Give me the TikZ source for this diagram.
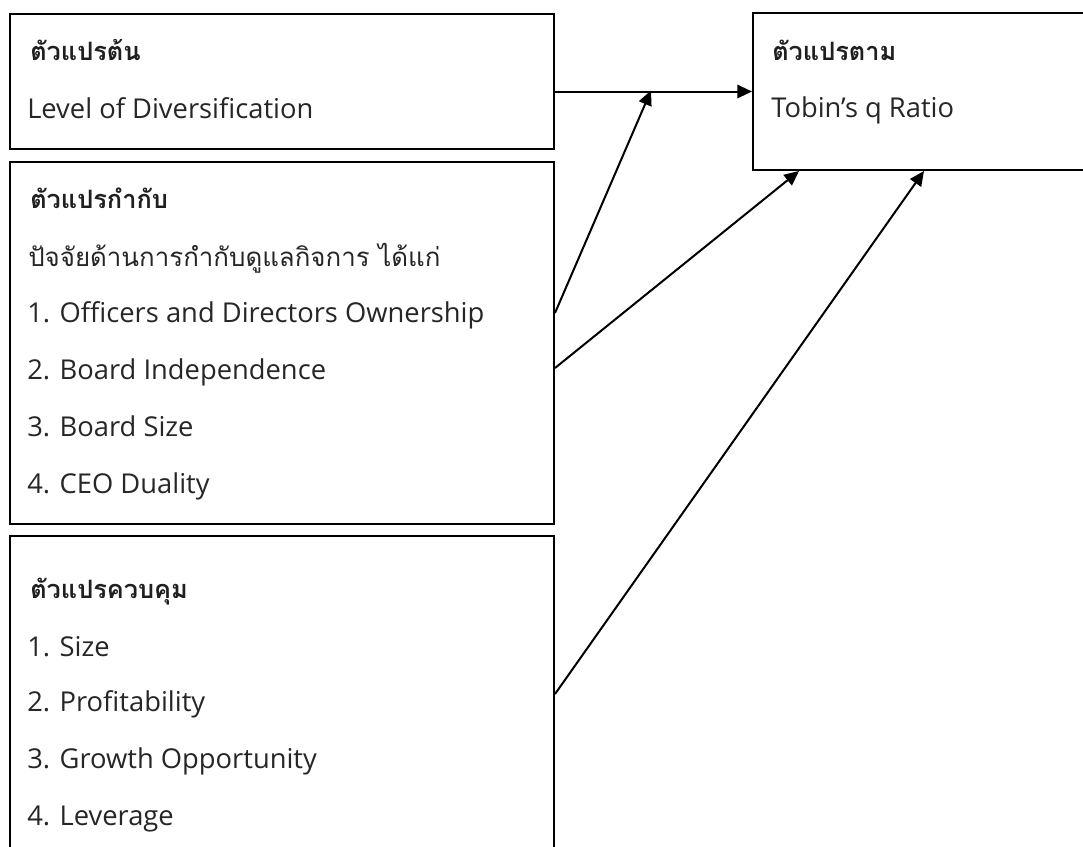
\documentclass[tikz,border=0pt]{standalone}
\usepackage{fontspec}
\setmainfont{Open Sans}
\newfontfamily\thaifont[Script=Thai]{Loma}
\usetikzlibrary{arrows.meta,calc}
\begin{document}
\begin{tikzpicture}[x=0.75pt,y=-0.75pt,
  box/.style={draw=black,line width=1.5pt,rectangle,inner sep=0pt,anchor=north west},
  arr/.style={line width=1.5pt,-{Triangle[length=11pt,width=10pt]}},
  txt/.style={anchor=base west,inner sep=0pt,text=black!85,font=\fontsize{20.5}{24}\selectfont},
  head/.style={anchor=base west,inner sep=0pt,text=black!88,font=\thaifont\bfseries\fontsize{19}{22}\selectfont},
  thai/.style={anchor=base west,inner sep=0pt,text=black!85,font=\thaifont\fontsize{19.4}{22}\selectfont}]
\useasboundingbox (0,0) rectangle (1083,847);
\clip (0,0) rectangle (1083,847);
% boxes
\node[box,minimum width=408pt,minimum height=101.25pt] (iv) at (9,13) {};
\node[box,minimum width=408pt,minimum height=271.5pt] (mod) at (9,161) {};
\node[box,minimum width=408pt,minimum height=251.25pt] (ctl) at (9,535) {};
\node[box,minimum width=261pt,minimum height=117.75pt] (dv) at (752,12) {};
% texts
\node[head] (t1) at (30,60) {ตัวแปรต้น};
\node[txt] (t2) at (27,118) {Level of Diversification};
\node[head] (t3) at (772,60) {ตัวแปรตาม};
\node[txt] (t4) at (771,117) {Tobin’s q Ratio};
\node[head] (m0) at (30,208) {ตัวแปรกำกับ};
\node[thai] (m1) at (28,266) {ปัจจัยด้านการกำกับดูแลกิจการ ได้แก่};
\node[txt] (m2) at (27,322) {1. Officers and Directors Ownership};
\node[txt] (m3) at (27,379) {2. Board Independence};
\node[txt] (m4) at (27,436) {3. Board Size};
\node[txt] (m5) at (27,493) {4. CEO Duality};
\node[head] (c0) at (30,598) {ตัวแปรควบคุม};
\node[txt] (c1) at (27,656) {1. Size};
\node[txt] (c2) at (27,711) {2. Profitability};
\node[txt] (c3) at (27,768) {3. Growth Opportunity};
\node[txt] (c4) at (27,825) {4. Leverage};
% connectors
\coordinate (jn) at (651,90.5);
\draw[arr] (iv.east |- dv.west) -- (dv.west);
\draw[arr] ([yshift=22.5pt]mod.east) -- (jn);
\draw[arr] ([yshift=-18.75pt]mod.east) -- ([xshift=-96pt]dv.south);
\draw[arr] ([yshift=7.1pt]ctl.east) -- ([xshift=-2.25pt]dv.south);
\end{tikzpicture}
\end{document}
